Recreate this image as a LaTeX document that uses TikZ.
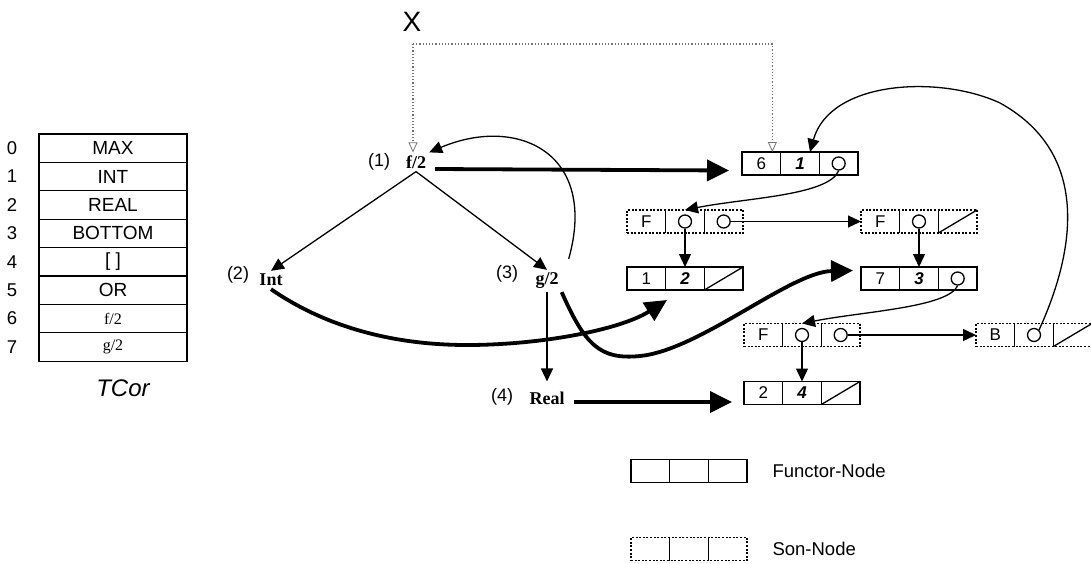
\documentclass[tikz,border=0pt]{standalone}
\usepackage{fontspec}
\setmainfont{Liberation Serif}
\setsansfont{Liberation Sans}
\usetikzlibrary{arrows.meta,positioning,calc}

\newcommand{\recnode}[6]{%
  \node[rec,#3] (#1) at (#2) {};
  \node[cell] (#1-1) at ($(#1)+(-38.67,0)$) {#4};
  \node[cell] (#1-2) at (#1) {#5};
  \node[cell] (#1-3) at ($(#1)+(38.67,0)$) {#6};
  \draw[ln] (#1-1.north east) -- (#1-1.south east);
  \draw[ln] (#1-2.north east) -- (#1-2.south east);
}

\begin{document}
\begin{tikzpicture}[x=1pt, y=-1pt,
    ln/.style={line width=1.3pt},
    arr/.style={ln, -{Triangle[length=13pt,width=12pt]}},
    fat/.style={line width=3.8pt, -{Triangle[length=22pt,width=21pt]}},
    ptrl/.style={draw=black!55, dotted, line width=1.2pt, -{Triangle[open,length=10pt,width=9pt,line width=0.8pt]}},
    rec/.style={draw, ln, minimum width=116pt, minimum height=23pt, inner sep=0pt, outer sep=0pt},
    son/.style={dash pattern=on 2pt off 1.6pt},
    cell/.style={minimum width=38.67pt, minimum height=23pt, inner sep=0pt, outer sep=0pt, font=\sffamily\fontsize{17}{19}\selectfont},
    ptr/.style={circle, draw, ln, minimum size=13pt, inner sep=0pt},
    trm/.style={font=\rmfamily\bfseries\fontsize{18}{20}\selectfont, inner sep=3pt},
    num/.style={font=\sffamily\fontsize{18}{20}\selectfont},
    row/.style={draw, ln, minimum width=148pt, minimum height=28.4pt, inner sep=0pt, outer sep=0pt, font=\sffamily\fontsize{19}{21}\selectfont},
    lbl/.style={font=\sffamily\fontsize{18.5}{21}\selectfont}
]
\useasboundingbox (0,0) rectangle (1091,563);

\foreach \t [count=\i from 0] in {MAX,INT,REAL,BOTTOM,{[ ]},OR,{\rmfamily\fontsize{16}{18}\selectfont f/2},{\rmfamily\fontsize{16}{18}\selectfont g/2}} {
  \node[row] (t\i) at (113,{148.2+28.4*\i}) {\t};
  \node[lbl] (n\i) at (12,{148.2+28.4*\i}) {\i};
}
\node[font=\sffamily\itshape\fontsize{24}{28}\selectfont] (tc) at (123,388) {TCor};

\node[font=\sffamily\fontsize{28}{30}\selectfont] (xv) at (412,22) {X};
\coordinate (xc) at (413,44);

\node[trm] (f) at (416,162) {f/2};
\node[trm] (int) at (271,280) {Int};
\node[trm] (g) at (547,281) {g/2};
\node[trm] (real) at (547,398) {Real};
\node[num] (l1) at (379,162) {(1)};
\node[num] (l2) at (238,275) {(2)};
\node[num] (l3) at (507,274) {(3)};
\node[num] (l4) at (502,397) {(4)};

\recnode{n61}{800,163.5}{}{6}{\bfseries\itshape 1}{}
\recnode{sA}{685,221.5}{son}{F}{}{}
\recnode{sB}{919,221.5}{son}{F}{}{}
\recnode{n12}{685,278.5}{}{1}{\bfseries\itshape 2}{}
\recnode{n73}{919,278.5}{}{7}{\bfseries\itshape 3}{}
\recnode{sC}{802,335}{son}{F}{}{}
\recnode{sD}{1034,335}{son}{B}{}{}
\recnode{n24}{802,393}{}{2}{\bfseries\itshape 4}{}
\recnode{lgF}{689,471}{}{}{}{}
\recnode{lgS}{689,549}{son}{}{}{}
\node[lbl, right=22pt of lgF] (lgFt) {Functor-Node};
\node[lbl, right=22pt of lgS] (lgSt) {Son-Node};

\node[ptr] (c61) at (n61-3) {};
\node[ptr] (cA2) at (sA-2) {};
\node[ptr] (cA3) at (sA-3) {};
\node[ptr] (cB2) at (sB-2) {};
\node[ptr] (c73) at (n73-3) {};
\node[ptr] (cC2) at (sC-2) {};
\node[ptr] (cC3) at (sC-3) {};
\node[ptr] (cD2) at (sD-2) {};

\draw[ln] (n12-3.south west) -- (n12-3.north east);
\draw[ln] (sB-3.south west) -- (sB-3.north east);
\draw[ln] (sD-3.south west) -- (sD-3.north east);
\draw[ln] (n24-3.south west) -- (n24-3.north east);

\draw[ptrl] (xc) -- (xc |- f.north);
\draw[ptrl] (xc) -| ([xshift=11pt]n61-1.north);

\draw[arr] (f.south) -- (int.north);
\draw[arr] (f.south) -- (g.north);
\draw[arr, shorten >=7pt] (g.south) -- (real.north);
\draw[arr] ([xshift=7pt,yshift=11pt]g.north east) .. controls +(30,-107) and +(87,-37) .. (f.north east);

\draw[fat] ([xshift=6pt,yshift=-7pt]f.east) -- ([xshift=-13pt,yshift=-7pt]n61.west);
\draw[fat] ([xshift=6pt,yshift=-4pt]real.east) -- ([xshift=-12pt,yshift=-9pt]n24.west);
\draw[fat] (int.south) .. controls (330,330) and (400,345) .. (467,345) .. controls (540,345) and (620,330) .. ([xshift=-18pt,yshift=-10pt]n12.south);
\draw[fat] (g.south east) .. controls (585,345) and (600,360) .. (640,356) .. controls (700,350) and (790,272) .. ([xshift=-8pt,yshift=8pt]n73.west);

\draw[arr] (c61.south) .. controls +(-10,25) and +(60,-12) .. (sA-2.north);
\draw[arr] (c73.south) .. controls +(-10,22) and +(60,-12) .. (sC-2.north);
\draw[arr] (cA2) -- (n12-2);
\draw[arr] (cA3) -- (sB-1);
\draw[arr] (cB2) -- (n73-2);
\draw[arr] (cC2) -- (n24-2);
\draw[arr] (cC3) -- (sD-1);
\draw[arr] (cD2.north east) .. controls (1080,240) and (1085,150) .. (1000,103) .. controls (940,75) and (830,80) .. ([xshift=10pt]n61-2.north);
\end{tikzpicture}
\end{document}
